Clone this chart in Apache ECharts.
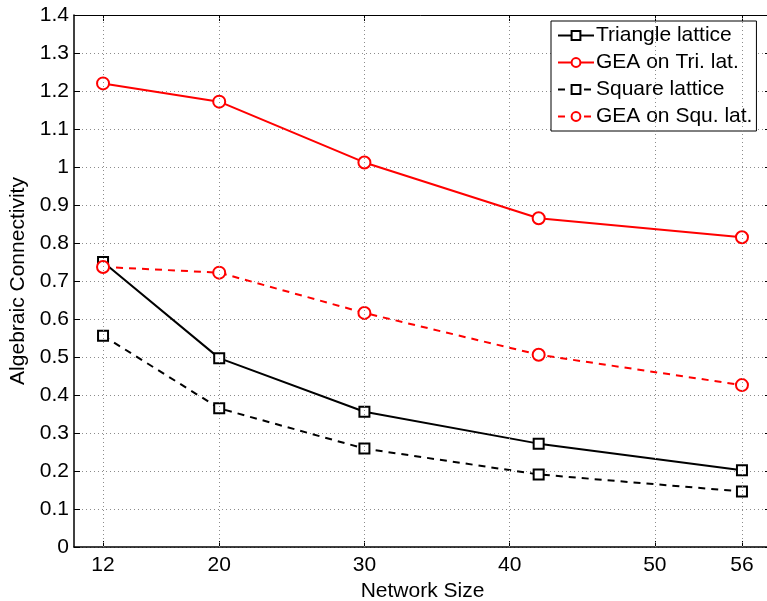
<!DOCTYPE html>
<html>
<head>
<meta charset="utf-8" />
<title>Algebraic Connectivity</title>
<style>
  html,body{margin:0;padding:0;background:#fff;}
  #chart{width:767px;height:601px;}
</style>
</head>
<body>
<div id="chart"></div>
<script src="https://cdn.jsdelivr.net/npm/echarts@6/dist/echarts.min.js"></script>
<script>
    // data
    var sizes = [12, 20, 30, 42, 56];
    var triLattice = [0.750, 0.497, 0.356, 0.272, 0.202];
    var geaTri = [1.220, 1.172, 1.012, 0.865, 0.815];
    var squLattice = [0.556, 0.365, 0.259, 0.191, 0.146];
    var geaSqu = [0.737, 0.722, 0.616, 0.506, 0.426];
    var xTicks = [12, 20, 30, 40, 50, 56];
    var names = ['Triangle lattice', 'GEA on Tri. lat.', 'Square lattice', 'GEA on Squ. lat.'];

    function pairs(ys) {
        var out = [];
        for (var i = 0; i < sizes.length; i++) out.push([sizes[i], ys[i]]);
        return out;
    }

    var font = 'Liberation Sans, Arial, Helvetica, sans-serif';
    var dotted = {color: '#8c8c8c', width: 1, type: [1, 3]};

    function mkSeries(name, ys, color, dashed, symbol, size) {
        return {
            name: name,
            type: 'line',
            data: pairs(ys),
            symbol: symbol,
            symbolSize: size,
            lineStyle: {color: color, width: 2, type: dashed ? [7, 6] : 'solid'},
            itemStyle: {color: '#fff', borderColor: color, borderWidth: 2},
            z: 3
        };
    }

    var chart = echarts.init(document.getElementById('chart'));
    chart.setOption({
        animation: false,
        backgroundColor: '#fff',
        textStyle: {fontFamily: font},
        grid: {left: 74, top: 15, width: 697, height: 532, containLabel: false, outerBoundsMode: 'none'},
        legend: {
            data: names,
            orient: 'vertical',
            left: 551,
            top: 21,
            width: 213,
            padding: [4, 4, 4, 6],
            itemGap: 6,
            itemWidth: 36,
            itemHeight: 11,
            backgroundColor: '#fff',
            borderColor: '#000',
            borderWidth: 1,
            borderRadius: 0,
            textStyle: {fontFamily: font, fontSize: 21, lineHeight: 21, color: '#000', padding: [0, 0, 0, -3]}
        },
        xAxis: [{
            type: 'value',
            min: 10,
            max: 58,
            name: 'Network Size',
            nameLocation: 'middle',
            nameGap: 30,
            nameTextStyle: {fontSize: 21, color: '#000', fontFamily: font},
            axisLine: {onZero: false, lineStyle: {color: '#000', width: 1.5}},
            axisTick: {inside: true, length: 6, customValues: xTicks, lineStyle: {color: '#000'}},
            axisLabel: {customValues: xTicks, fontSize: 21, color: '#000', margin: 8},
            splitLine: {show: false}
        }, {
            type: 'value',
            position: 'top',
            min: 10,
            max: 58,
            axisLine: {onZero: false, lineStyle: {color: '#000', width: 1}},
            axisTick: {inside: true, length: 6, customValues: xTicks, lineStyle: {color: '#000'}},
            axisLabel: {show: false},
            splitLine: {show: false}
        }],
        yAxis: [{
            type: 'value',
            min: 0,
            max: 1.4,
            interval: 0.1,
            name: 'Algebraic Connectivity',
            nameLocation: 'middle',
            nameGap: 36,
            nameTextStyle: {fontSize: 21, color: '#000', fontFamily: font},
            axisLine: {show: true, onZero: false, lineStyle: {color: '#000', width: 1.5}},
            axisTick: {show: true, inside: true, length: 6, lineStyle: {color: '#000'}},
            axisLabel: {fontSize: 21, color: '#000', margin: 5,
                formatter: function (v) { return String(Math.round(v * 10) / 10); }},
            splitLine: {show: true, lineStyle: dotted}
        }, {
            type: 'value',
            position: 'right',
            min: 0,
            max: 1.4,
            interval: 0.1,
            axisLine: {show: true, onZero: false, lineStyle: {color: '#000', width: 1}},
            axisTick: {show: true, inside: true, length: 6, lineStyle: {color: '#000'}},
            axisLabel: {show: false},
            splitLine: {show: false}
        }],
        series: [
            mkSeries(names[0], triLattice, '#000', false, 'rect', 10),
            mkSeries(names[1], geaTri, '#ff0000', false, 'circle', 12),
            mkSeries(names[2], squLattice, '#000', true, 'rect', 10),
            mkSeries(names[3], geaSqu, '#ff0000', true, 'circle', 12),
            {
                // vertical dotted grid lines at the x tick positions
                type: 'line',
                data: [],
                silent: true,
                markLine: {
                    symbol: 'none',
                    silent: true,
                    label: {show: false},
                    lineStyle: dotted,
                    data: xTicks.map(function (t) { return {xAxis: t}; })
                },
                z: 1
            }
        ]
    });
</script>
</body>
</html>
